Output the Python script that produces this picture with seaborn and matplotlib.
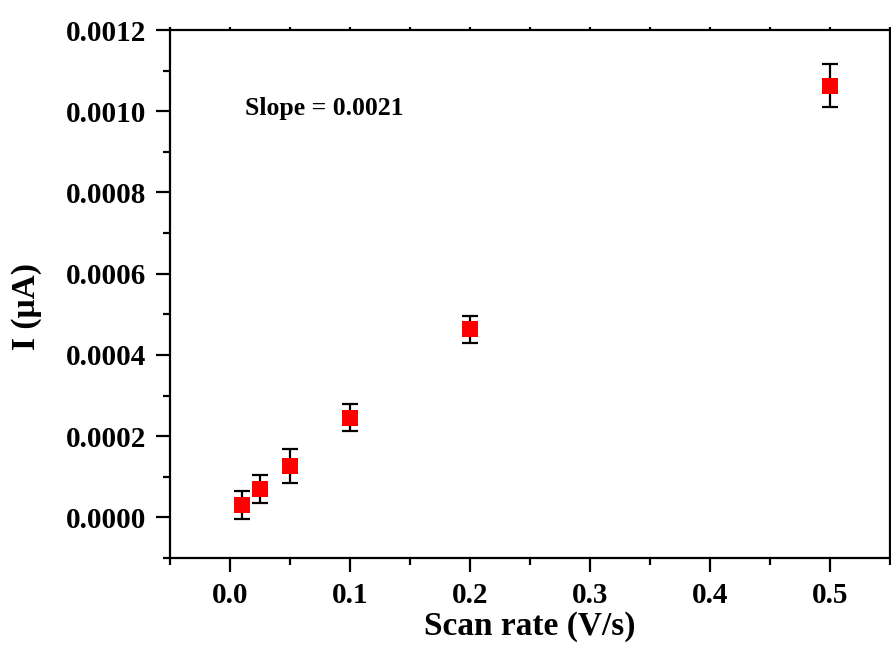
import matplotlib
matplotlib.use("Agg")
import matplotlib.pyplot as plt
import seaborn as sns
import pandas as pd
from matplotlib.ticker import MultipleLocator

# scan rate (V/s), peak current and its error
scan_rate = [0.01, 0.025, 0.05, 0.1, 0.2, 0.5]
current = [3.0e-5, 7.0e-5, 12.6e-5, 2.45e-4, 4.63e-4, 1.063e-3]
current_err = [3.5e-5, 3.5e-5, 4.2e-5, 3.3e-5, 3.3e-5, 5.3e-5]
slope_text = "Slope = 0.0021"

df = pd.DataFrame({"rate": scan_rate, "I": current, "err": current_err})

sns.set_style("ticks")
plt.rcParams['font.family'] = ['Liberation Serif', 'DejaVu Serif']
plt.rcParams['font.weight'] = 'bold'
plt.rcParams['axes.labelweight'] = 'bold'
plt.rcParams['text.color'] = 'black'
plt.rcParams['axes.labelcolor'] = 'black'
plt.rcParams['xtick.color'] = 'black'
plt.rcParams['ytick.color'] = 'black'

fig = plt.figure(figsize=(8.91, 6.64), dpi=100)
ax = fig.add_axes([0.1908, 0.1596, 0.808, 0.7952])

ax.errorbar(df["rate"], df["I"], yerr=df["err"], fmt='none', ecolor='black',
            elinewidth=1.6, capsize=6, capthick=1.6, zorder=2)
sns.scatterplot(data=df, x="rate", y="I", marker='s', s=135, color='#ff0000',
                edgecolor='#ff0000', linewidth=0, ax=ax, zorder=3)

ax.set_xlim(-0.05, 0.55)
ax.set_ylim(-0.0001, 0.0012)
ax.xaxis.set_major_locator(MultipleLocator(0.1))
ax.xaxis.set_minor_locator(MultipleLocator(0.05))
ax.yaxis.set_major_locator(MultipleLocator(0.0002))
ax.yaxis.set_minor_locator(MultipleLocator(0.0001))
ax.set_xticks([0.0, 0.1, 0.2, 0.3, 0.4, 0.5])
ax.set_xticklabels(["0.0", "0.1", "0.2", "0.3", "0.4", "0.5"])
ax.set_yticks([0.0, 0.0002, 0.0004, 0.0006, 0.0008, 0.0010, 0.0012])
ax.set_yticklabels(["0.0000", "0.0002", "0.0004", "0.0006", "0.0008", "0.0010", "0.0012"])

for s in ax.spines.values():
    s.set_visible(True)
    s.set_linewidth(1.6)
    s.set_color('black')

ax.tick_params(axis='both', which='major', direction='out', length=10, width=1.6,
               labelsize=21, pad=7, colors='black')
ax.tick_params(axis='both', which='minor', direction='out', length=5, width=1.6,
               colors='black')
ax.tick_params(axis='x', which='both', top=True, bottom=True)
for t in ax.xaxis.get_ticklines(minor=False)[1::2]:
    t.set_markersize(2)
for t in ax.xaxis.get_ticklines(minor=True)[1::2]:
    t.set_markersize(2)
for lab in ax.get_xticklabels() + ax.get_yticklabels():
    lab.set_fontweight('bold')
    lab.set_color('black')

ax.set_xlabel("Scan rate (V/s)", fontsize=24, fontweight='bold', labelpad=2, color='black')
ax.set_ylabel("I (μA)", fontsize=24, fontweight='bold', color='black')
ax.yaxis.set_label_coords(-0.178, 0.477)

ax.text(0.104, 0.852, slope_text, transform=ax.transAxes, fontsize=18.5,
        fontweight='bold', ha='left', va='center', color='black')

fig.savefig("out.png", dpi=100)
